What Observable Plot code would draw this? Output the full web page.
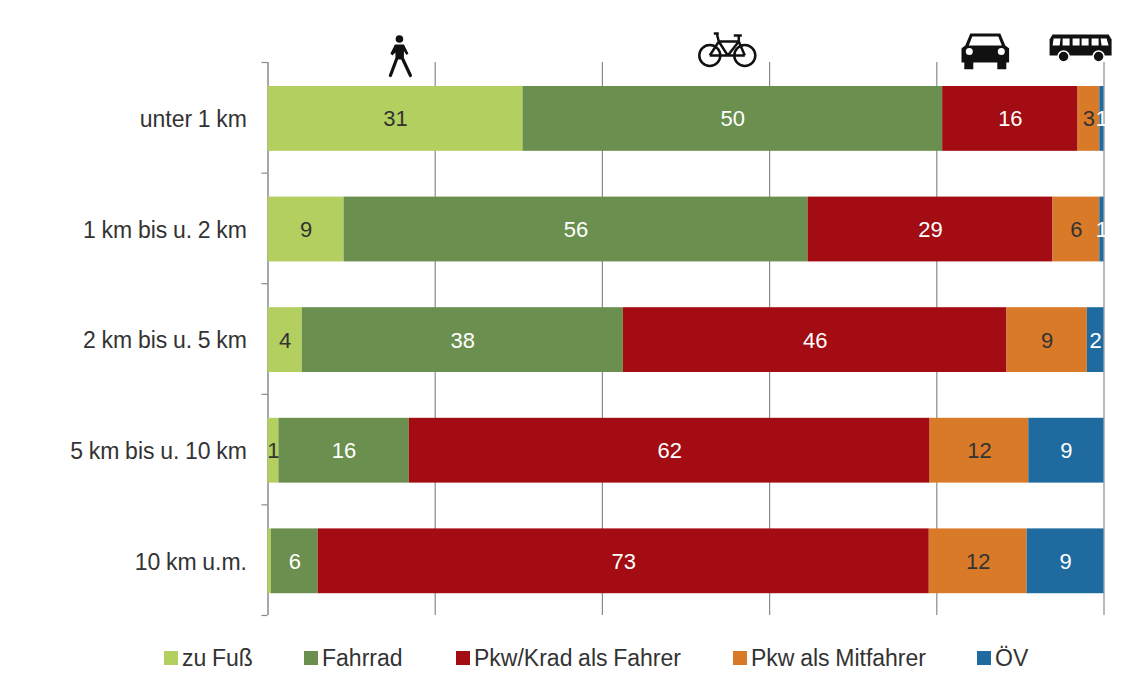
<!DOCTYPE html>
<html><head><meta charset="utf-8">
<script src="https://cdn.jsdelivr.net/npm/d3@7"></script>
<script src="https://cdn.jsdelivr.net/npm/@observablehq/plot@0.6"></script>
<style>
html,body{margin:0;padding:0;background:#fff;}
#chart{width:1134px;height:630px;}
#chart svg{display:block;}
#chart svg text{word-spacing:-0.7px;}
#legend{position:relative;height:54px;font:23px "Liberation Sans",Arial,sans-serif;color:#333;word-spacing:-0.7px;}
#legend div{position:absolute;top:15px;display:flex;align-items:center;line-height:26px;white-space:nowrap;}
#legend i{display:inline-block;width:14px;height:14px;margin-right:4px;}
</style></head><body>
<div id="chart"></div><div id="legend"></div>
<script>
const rows = ["unter 1 km","1 km bis u. 2 km","2 km bis u. 5 km","5 km bis u. 10 km","10 km u.m."];
const modes = ["zu Fuß","Fahrrad","Pkw/Krad als Fahrer","Pkw als Mitfahrer","ÖV"];
const colors = ["#b2cf5f","#6b8f4e","#a20c12","#d97a28","#1f6a9f"];
const labelColors = ["#333333","#ffffff","#ffffff","#333333","#ffffff"];
const zuFuss = [30.5, 9.1, 4.1, 1.3, 0.4];
const fahrrad = [50.2, 55.5, 38.4, 15.6, 5.6];
const fahrer = [16.2, 29.3, 45.9, 62.3, 73.1];
const mitfahrer = [2.6, 5.6, 9.6, 11.8, 11.7];
const oev = [0.5, 0.5, 2.0, 9.0, 9.2];
const labels = [
  ["31","9","4","1",""],
  ["50","56","38","16","6"],
  ["16","29","46","62","73"],
  ["3","6","9","12","12"],
  ["1","1","2","9","9"]
];
const legendLeft = [164,304,456,733,977];
const series = [zuFuss,fahrrad,fahrer,mitfahrer,oev];
const table = [];
rows.forEach((r,i)=>{let c=0;series.forEach((s,m)=>{table.push({row:i,mode:modes[m],x1:c,x2:c+s[i],label:labels[m][i],lc:labelColors[m]});c+=s[i];});});

const svgUri = (w,h,body)=>"data:image/svg+xml;utf8,"+encodeURIComponent(`<svg xmlns="http://www.w3.org/2000/svg" viewBox="0 0 ${w} ${h}" width="${w}" height="${h}">${body}</svg>`);
const walker = svgUri(26,44,`<circle cx="11.500" cy="4.500" r="3.800" fill="#111"/><path d="M7 10h9l4.500 9-2 1.500-2.500-4v8.500H7.500v-7l-3 3-2-2z" fill="#111"/><path d="M8.500 25 2.500 41M15 25l7.500 16" stroke="#111" stroke-width="3.200" fill="none" stroke-linecap="round"/>`);
const bike = svgUri(60,38,`<g fill="none" stroke="#111" stroke-width="2.500"><circle cx="12" cy="25" r="10.500"/><circle cx="47" cy="25" r="10.500"/><path d="M12 25 21 11h20l6 14M21 11l9 14H12M41 11 30 25h17M19 3h-3M21 3l-2 0 2 8M36 5h8M41 5v6"/></g>`);
const car = svgUri(48,38,`<path d="M9 2h30l5 12 4 3v14H0V17l4-3z" fill="#111"/><path d="M11 5h26l3.500 9H7.500z" fill="#fff"/><circle cx="8" cy="20" r="3.500" fill="#fff"/><circle cx="40" cy="20" r="3.500" fill="#fff"/><rect x="3" y="30" width="9" height="8" fill="#111"/><rect x="36" y="30" width="9" height="8" fill="#111"/>`);
const bus = svgUri(64,30,`<path d="M4 1h56l3 5v16H1V6z" fill="#111"/><g fill="#fff"><path d="M5 5h7l-1 7H4z"/><rect x="14" y="5" width="7" height="7"/><rect x="24" y="5" width="7" height="7"/><rect x="33" y="5" width="7" height="7"/><rect x="43" y="5" width="7" height="7"/><path d="M52 5h6l2 7h-7z"/></g><circle cx="15" cy="23" r="5.500" fill="#111" stroke="#fff" stroke-width="1.500"/><circle cx="50" cy="23" r="5.500" fill="#111" stroke="#fff" stroke-width="1.500"/>`);
const icons = [{x:15.9,src:walker,w:26,h:44,top:34},{x:55,src:bike,w:60,h:38,top:30},{x:85.8,src:car,w:48,h:38,top:31},{x:97.2,src:bus,w:64,h:30,top:33}];

const font = '"Liberation Sans",Arial,sans-serif';
const plot = Plot.plot({
  width:1134,height:630,marginLeft:267.5,marginRight:30.5,marginTop:62,marginBottom:15,
  style:{fontFamily:font,background:"#fff",overflow:"visible"},
  x:{domain:[0,100],axis:null},
  y:{domain:[0,5],reverse:true,axis:null},
  color:{domain:modes,range:colors},
  marks:[
    Plot.ruleX([20,40,60,80,100],{stroke:"#8a8a8a",strokeWidth:1.2}),
    Plot.ruleX([0],{stroke:"#8a8a8a",strokeWidth:1.5}),
    Plot.axisY({ticks:[0,1,2,3,4,5],tickFormat:()=>"",tickSize:6,stroke:"#8a8a8a",strokeWidth:1.2,label:null}),
    Plot.axisY({ticks:[0.5,1.5,2.5,3.5,4.5],tickSize:0,tickPadding:21,dy:2,tickFormat:d=>rows[d-0.5],fontSize:23,fill:"#333",label:null}),
    Plot.rect(table,{x1:"x1",x2:"x2",y1:d=>d.row+0.217,y2:d=>d.row+0.803,fill:"mode"}),
    Plot.text(table,{x:d=>(d.x1+d.x2)/2,y:d=>d.row+0.5,dy:1.5,text:"label",fill:"lc",fontSize:22}),
    ...icons.map(ic=>Plot.image([ic],{x:"x",frameAnchor:"top",src:"src",width:ic.w,height:ic.h,dy:ic.top+ic.h/2-62}))
  ]
});
document.getElementById("chart").append(plot);
const lg=document.getElementById("legend");
modes.forEach((m,i)=>{const d=document.createElement("div");d.style.left=legendLeft[i]+"px";const s=document.createElement("i");s.style.background=colors[i];d.append(s,document.createTextNode(m));lg.append(d);});
</script></body></html>
